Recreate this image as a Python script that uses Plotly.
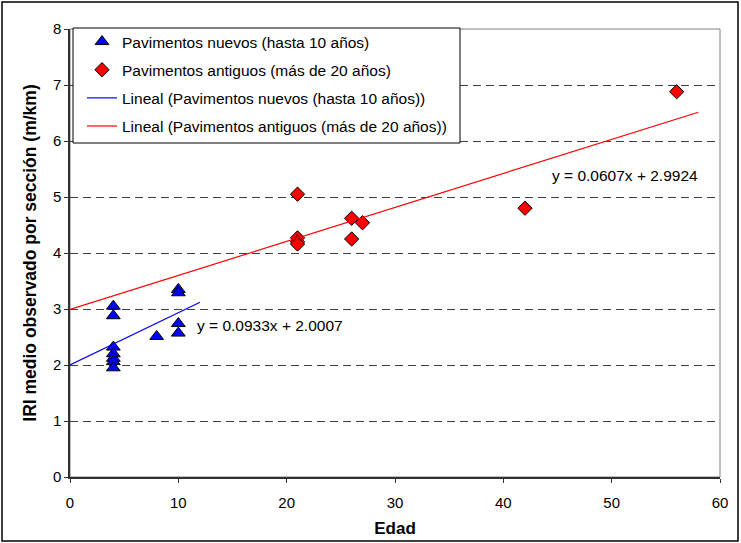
import plotly.graph_objects as go

# ---- data ----
nuevos_x = [4, 4, 4, 4, 4, 4, 4, 8, 10, 10, 10, 10]
nuevos_y = [3.05, 2.88, 2.32, 2.2, 2.12, 2.06, 1.95, 2.51, 3.35, 3.29, 2.74, 2.57]
antiguos_x = [21, 21, 21, 21, 26, 26, 27, 42, 56]
antiguos_y = [5.05, 4.27, 4.2, 4.16, 4.62, 4.25, 4.54, 4.8, 6.88]

trend_nuevos = (0.0933, 2.0007)
trend_nuevos_range = [0, 12]
trend_antiguos = (0.0607, 2.9924)
trend_antiguos_range = [0, 58]

x_ticks = [0, 10, 20, 30, 40, 50, 60]
y_ticks = [0, 1, 2, 3, 4, 5, 6, 7, 8]

names = [
    "Pavimentos nuevos (hasta 10 años)",
    "Pavimentos antiguos (más de 20 años)",
    "Lineal (Pavimentos nuevos (hasta 10 años))",
    "Lineal (Pavimentos antiguos (más de 20 años))",
]

FONT = "Liberation Sans, Arial, sans-serif"

fig = go.Figure()

fig.add_trace(go.Scatter(
    x=nuevos_x, y=nuevos_y, mode="markers", name=names[0], legendgroup="a",
    marker=dict(symbol="triangle-up", size=12, color="#0000FF",
                line=dict(color="black", width=1)),
))
fig.add_trace(go.Scatter(
    x=antiguos_x, y=antiguos_y, mode="markers", name=names[1], legendgroup="b",
    marker=dict(symbol="diamond", size=11, color="#FF0000",
                line=dict(color="black", width=1)),
))
m, b = trend_nuevos
fig.add_trace(go.Scatter(
    x=trend_nuevos_range, y=[m * v + b for v in trend_nuevos_range],
    mode="lines", name=names[2], legendgroup="c",
    line=dict(color="#0000FF", width=1.2),
))
m, b = trend_antiguos
fig.add_trace(go.Scatter(
    x=trend_antiguos_range, y=[m * v + b for v in trend_antiguos_range],
    mode="lines", name=names[3], legendgroup="d",
    line=dict(color="#FF0000", width=1.2),
))

fig.add_annotation(x=18.5, y=2.71, text="y = 0.0933x + 2.0007", showarrow=False,
                   font=dict(family=FONT, size=15.5, color="black"))
fig.add_annotation(x=51.2, y=5.39, text="y = 0.0607x + 2.9924", showarrow=False,
                   font=dict(family=FONT, size=15.5, color="black"))

W, H = 741, 543
L, R, T, B = 70, 21, 29, 66
pw, ph = W - L - R, H - T - B


def px_x(p):
    return (p - L) / pw


def px_y(p):
    return (H - B - p) / ph


# plot area border (top/right thin gray)
fig.add_shape(type="rect", xref="paper", yref="paper", x0=0, y0=0, x1=1, y1=1,
              line=dict(color="#808080", width=1), layer="below")
# legend frame
fig.add_shape(type="rect", xref="paper", yref="paper",
              x0=px_x(73), x1=px_x(460), y0=px_y(143), y1=px_y(28),
              line=dict(color="black", width=1), fillcolor="white", layer="above")
# outer chart frame
fig.add_shape(type="rect", xref="paper", yref="paper",
              x0=px_x(2), y0=px_y(541), x1=px_x(738), y1=px_y(2),
              line=dict(color="black", width=1.5))

fig.update_layout(
    width=W, height=H,
    margin=dict(l=L, r=R, t=T, b=B, autoexpand=False),
    paper_bgcolor="white", plot_bgcolor="white",
    font=dict(family=FONT, size=15, color="black"),
    showlegend=True,
    legend=dict(
        x=px_x(82), y=px_y(25), xanchor="left", yanchor="top",
        bgcolor="rgba(0,0,0,0)", borderwidth=0,
        font=dict(family=FONT, size=15.5, color="black"),
        tracegroupgap=5, itemwidth=30,
    ),
    xaxis=dict(
        range=[0, 60], tickvals=x_ticks, ticktext=[str(v) for v in x_ticks],
        showgrid=False, zeroline=False, automargin=False,
        showline=True, linecolor="#303030", linewidth=1.5,
        ticks="outside", ticklen=4, tickcolor="#303030",
        tickfont=dict(size=15), ticklabelstandoff=7,
        title=dict(text="<b>Edad</b>", font=dict(size=17), standoff=12),
    ),
    yaxis=dict(
        range=[0, 8], tickvals=y_ticks, ticktext=[str(v) for v in y_ticks],
        showgrid=True, gridcolor="#404040", gridwidth=1, griddash="8px,5px",
        zeroline=False, automargin=False,
        showline=True, linecolor="#303030", linewidth=1.5,
        ticks="outside", ticklen=4, tickcolor="#303030",
        tickfont=dict(size=15),
        title=dict(text="<b>IRI medio observado por sección (m/km)</b>",
                   font=dict(size=17.5), standoff=12),
    ),
)

fig.write_html("out.html", config={"displayModeBar": False},
               post_script="document.body.style.margin='0px';")
